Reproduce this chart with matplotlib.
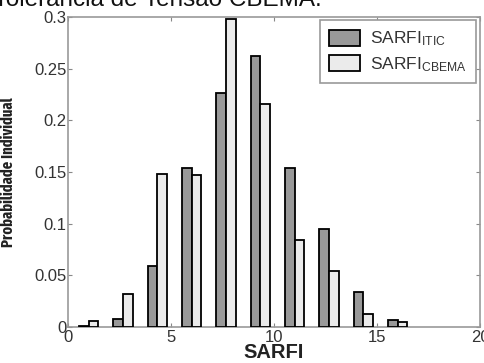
import matplotlib
matplotlib.use("Agg")
import matplotlib.pyplot as plt
from matplotlib import font_manager
import numpy as np

# ---- data ----
centers = [1.0, 2.667, 4.333, 6.0, 7.667, 9.333, 11.0, 12.667, 14.333, 16.0]
sarfi_itic = [0.0005, 0.0075, 0.059, 0.154, 0.226, 0.262, 0.154, 0.095, 0.034, 0.007]
sarfi_cbema = [0.0055, 0.032, 0.148, 0.147, 0.298, 0.216, 0.084, 0.054, 0.013, 0.005]
xticks = [0, 5, 10, 15, 20]
yticks = [0, 0.05, 0.1, 0.15, 0.2, 0.25, 0.3]
ytick_labels = ["0", "0.05", "0.1", "0.15", "0.2", "0.25", "0.3"]
label_itic = r"SARFI$_{\mathrm{ITIC}}$"
label_cbema = r"SARFI$_{\mathrm{CBEMA}}$"
title_text = "Curva de Tolerância de Tensão CBEMA."

names = {f.name for f in font_manager.fontManager.ttflist}
base = "Liberation Sans" if "Liberation Sans" in names else "DejaVu Sans"
narrow = base
for cand in ["Fira Sans Extra Condensed", "Sofia Sans Extra Condensed",
             "Saira Extra Condensed", "PT Sans Narrow", "Archivo Narrow"]:
    if cand in names:
        narrow = cand
        break

plt.rcParams["font.family"] = [base, "DejaVu Sans"]
plt.rcParams["mathtext.fontset"] = "custom"
plt.rcParams["mathtext.rm"] = base
plt.rcParams["mathtext.it"] = base
plt.rcParams["mathtext.bf"] = base

W, H = 484, 363
fig = plt.figure(figsize=(W / 100, H / 100), dpi=100)
L, R, T, B = 68, 480, 17, 327
ax = fig.add_axes([L / W, 1 - B / H, (R - L) / W, (B - T) / H])

bw = 0.47
c = np.array(centers)
ax.bar(c - bw / 2, sarfi_itic, width=bw, color="#999999", edgecolor="black",
       linewidth=1.3, label=label_itic, zorder=3)
ax.bar(c + bw / 2, sarfi_cbema, width=bw, color="#ebebeb", edgecolor="black",
       linewidth=1.3, label=label_cbema, zorder=3)

ax.set_xlim(0, 20)
ax.set_ylim(0, 0.3)
ax.set_xticks(xticks)
ax.set_yticks(yticks)
ax.set_yticklabels(ytick_labels)
ax.tick_params(direction="in", length=3, width=0.8, colors="#888888",
               labelcolor="#333333", labelsize=12, top=True, right=True)
ax.tick_params(axis="x", pad=2.5)
ax.tick_params(axis="y", pad=1)
for s in ax.spines.values():
    s.set_color("#999999")
    s.set_linewidth(1.2)

ax.set_xlabel("SARFI", fontsize=14.5, fontweight="bold", color="#222222")
ax.xaxis.set_label_coords(0.5, -(342.5 - B) / (B - T))
ylab = ax.set_ylabel("Probabilidade Individual", fontsize=11, fontweight="bold",
                     family=[narrow, "DejaVu Sans"], color="#222222")
ax.yaxis.set_label_coords(-(L - 16.5) / (R - L), 0.5)

leg = ax.legend(loc="upper right", bbox_to_anchor=(476 / W, 1 - 20 / H),
                bbox_transform=fig.transFigure, fancybox=False, edgecolor="#999999",
                framealpha=1, fontsize=12.5, handlelength=1.75, handleheight=1.05,
                handletextpad=0.6, labelspacing=0.4, borderpad=0.55,
                borderaxespad=0)
leg.get_frame().set_linewidth(1.2)
for t in leg.get_texts():
    t.set_color("#333333")

fig.text(322 / W, 1 - 6.5 / H, title_text, ha="right", va="baseline", fontsize=17.5,
         color="#111111")

# fit the y label to the reference length (~150 px)
fig.canvas.draw()
h = ylab.get_window_extent().height
ylab.set_fontsize(11 * 150.0 / h)

fig.savefig("out.png", dpi=100)
